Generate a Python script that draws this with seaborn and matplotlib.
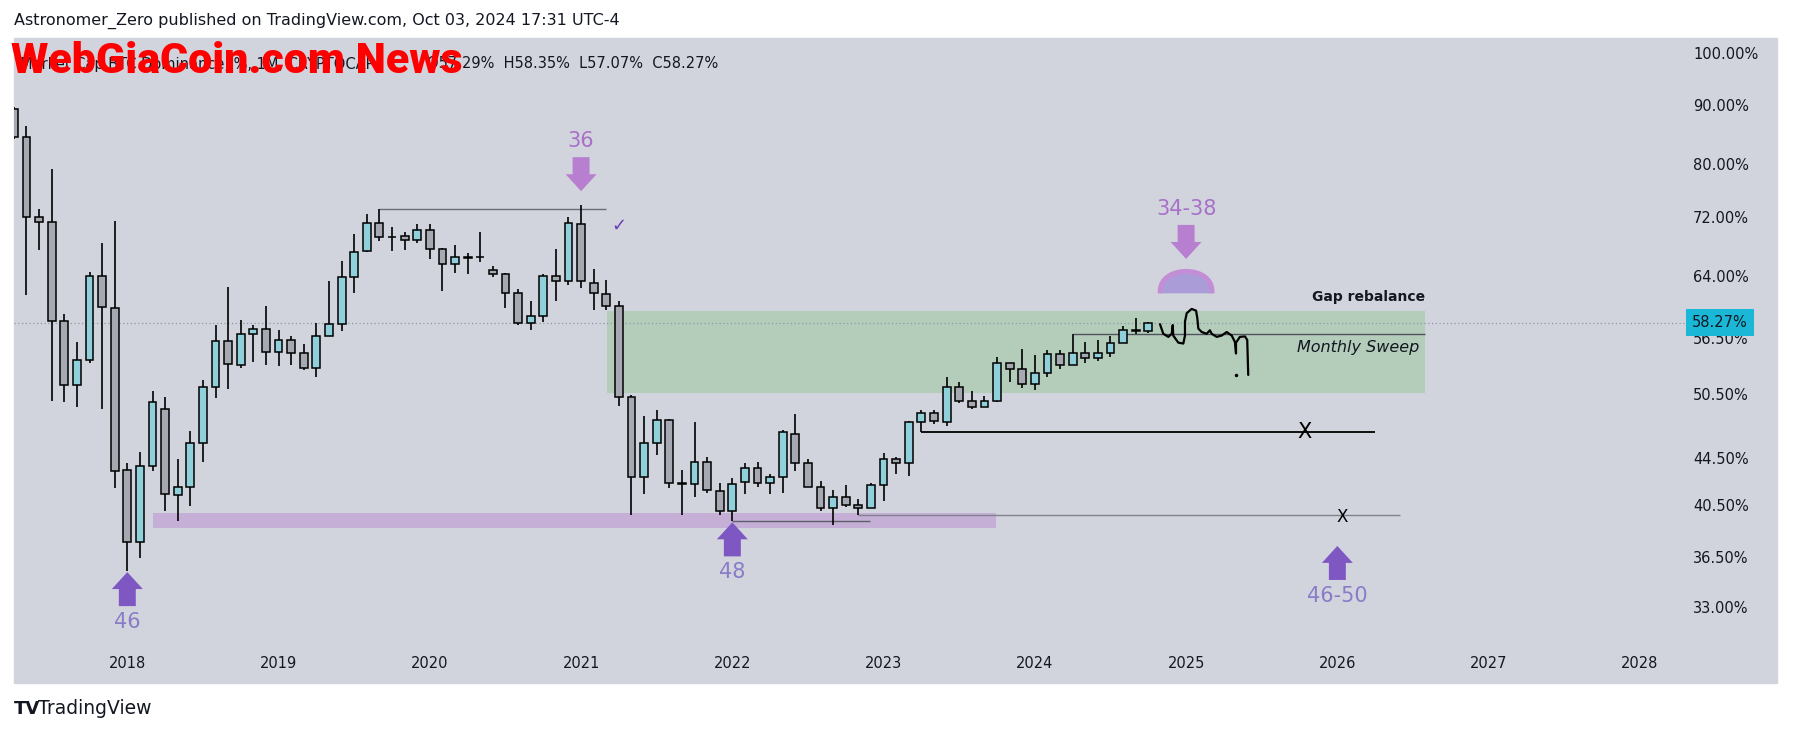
import numpy as np
import pandas as pd
import seaborn as sns
import matplotlib.pyplot as plt
import matplotlib.patches as mpatches
import matplotlib.transforms as mtransforms

# Monthly candles, BTC dominance (%), Apr 2017 .. Oct 2024
months = pd.period_range('2017-04', '2024-10', freq='M')
opens = [89.3, 84.5, 72.0, 71.2, 58.5, 51.5, 54.1, 64.0, 60.0, 43.4,
         37.6, 43.8, 49.0, 41.3, 42.0, 45.8, 51.3, 56.2, 53.6, 57.0,
         57.6, 55.0, 56.3, 54.8, 53.2, 56.8, 58.1, 63.9, 67.3, 71.1,
         69.2, 69.3, 68.7, 70.1, 67.5, 65.5, 66.4, 66.4, 64.8, 64.2,
         61.9, 58.3, 59.1, 64.0, 63.3, 71.0, 63.1, 61.7, 60.2, 50.2,
         42.8, 45.8, 48.0, 42.3, 42.2, 44.1, 41.6, 40.0, 42.4, 43.6,
         42.3, 42.8, 46.7, 44.0, 42.0, 40.2, 41.1, 40.5, 40.2, 42.1,
         44.4, 44.0, 47.8, 48.7, 47.8, 51.2, 49.85, 49.2, 49.8, 53.8,
         53.1, 51.6, 52.7, 54.7, 53.6, 54.9, 54.3, 54.8, 56.0, 57.4, 57.29]
highs = [89.6, 86.4, 73.2, 79.3, 59.3, 56.1, 64.5, 68.4, 71.4, 44.0,
         45.0, 50.8, 50.2, 44.4, 46.9, 52.0, 58.0, 62.6, 58.6, 58.0,
         60.2, 57.4, 56.8, 55.8, 58.2, 63.3, 65.9, 69.6, 72.4, 73.1,
         70.5, 69.8, 71.0, 71.0, 67.6, 68.1, 67.0, 69.9, 65.3, 64.3,
         62.3, 60.8, 64.2, 67.5, 72.0, 73.7, 64.9, 63.5, 60.8, 50.4,
         48.4, 48.9, 48.1, 43.4, 47.8, 44.6, 42.3, 42.7, 44.0, 44.1,
         43.1, 47.0, 48.6, 44.4, 42.5, 41.7, 42.1, 41.0, 42.3, 44.9,
         44.6, 47.9, 48.9, 48.9, 52.3, 51.8, 50.8, 50.3, 54.4, 53.8,
         55.3, 54.6, 55.2, 55.2, 57.0, 56.1, 56.3, 56.8, 57.9, 58.8, 58.35]
lows = [84.2, 61.6, 67.4, 49.8, 49.7, 49.2, 53.8, 49.0, 41.9, 35.5,
        36.4, 43.3, 40.0, 39.2, 40.4, 44.1, 50.1, 51.0, 53.2, 53.9,
        53.6, 53.4, 53.6, 53.0, 52.3, 56.7, 57.3, 61.9, 67.1, 68.6,
        67.3, 67.4, 68.3, 66.2, 62.1, 64.3, 64.2, 65.8, 63.9, 60.0,
        58.0, 57.4, 58.4, 60.9, 62.8, 62.5, 59.8, 59.8, 49.3, 39.7,
        41.4, 44.7, 41.9, 39.7, 41.1, 41.5, 39.7, 39.2, 41.4, 42.0,
        41.4, 41.5, 43.3, 42.0, 40.0, 38.9, 40.3, 39.7, 40.2, 40.8,
        43.1, 42.9, 46.8, 47.6, 47.4, 49.6, 49.0, 49.2, 49.7, 51.8,
        51.1, 50.9, 52.3, 53.1, 53.6, 53.8, 54.0, 54.4, 56.0, 57.0, 57.07]
closes = [84.5, 72.0, 71.2, 58.5, 51.5, 54.1, 64.0, 60.1, 43.3, 37.6,
          43.8, 49.7, 41.4, 42.0, 45.8, 51.3, 56.2, 53.7, 57.0, 57.5,
          55.0, 56.3, 54.8, 53.2, 56.8, 58.1, 63.9, 67.1, 71.1, 69.2,
          69.1, 68.7, 70.1, 67.5, 65.5, 66.4, 66.35, 66.45, 64.2, 61.9,
          58.3, 59.1, 64.0, 63.3, 71.1, 63.3, 61.8, 60.2, 50.2, 42.8,
          45.8, 48.0, 42.3, 42.2, 44.1, 41.7, 40.0, 42.2, 43.6, 42.3,
          42.8, 46.8, 44.0, 42.0, 40.2, 41.1, 40.5, 40.2, 42.1, 44.4,
          44.0, 47.8, 48.7, 47.9, 51.2, 49.8, 49.2, 49.85, 53.8, 53.1,
          51.6, 52.7, 54.7, 53.6, 54.9, 54.3, 54.8, 56.0, 57.4, 57.3, 58.27]

price_ticks = [100, 90, 80, 72, 64, 56.5, 50.5, 44.5, 40.5, 36.5, 33]
year_labels = [str(y) for y in range(2018, 2029)]
last_price = 58.27

# drawings, x = months counted from Jan 2018, y = dominance %
gap_zone = [38.05, 102.95, 50.6, 59.65]
support_zone = [2.0, 68.9, 38.7, 39.8]
level_lines = [  # value, from, to, colour, width
    (73.1, 20.0, 37.98, '#6a6d78', 1.0),
    (57.0, 75.0, 102.95, '#50535e', 1.0),
    (46.8, 63.0, 98.98, '#000000', 1.3),
    (39.7, 58.0, 100.97, '#80838d', 1.0),
    (39.2, 48.0, 58.92, '#5d606b', 1.0),
]
arrow_marks = [  # month, tip value, label, direction, arrow colour, text colour
    (0, 35.4, '46', 'up', '#7e57c2', '#8a7bc8'),
    (36, 75.8, '36', 'down', '#b87fd0', '#a870c8'),
    (48, 39.1, '48', 'up', '#7e57c2', '#8a7bc8'),
    (84, 66.2, '34-38', 'down', '#b87fd0', '#a870c8'),
    (96, 37.3, '46-50', 'up', '#7e57c2', '#8a7bc8'),
]
dome_anchor = (84, 61.8)
check_mark = (39.0, 70.8)
cross_marks = [(93.43, 46.8, 15), (96.37, 39.5, 12)]
sq_month = [81.93, 82.19, 82.59, 82.86, 82.94, 82.98, 83.38, 83.78, 83.91, 83.91,
            84.05, 84.44, 84.79, 84.89, 84.97, 85.24, 85.63, 85.89, 86.03, 86.43,
            86.82, 87.22, 87.62, 87.88, 87.96, 87.96, 88.27, 88.67, 88.85, 88.93]
sq_value = [58.1, 57.0, 56.65, 57.0, 58.0, 56.8, 56.0, 55.9, 56.8, 58.4,
            59.4, 59.9, 59.7, 58.8, 57.6, 57.2, 57.0, 57.4, 57.0, 56.65,
            56.8, 57.2, 56.8, 56.05, 54.8, 56.0, 56.65, 56.7, 56.3, 52.5]
sq_dot = (87.96, 52.5)

W, H = 1793, 735
PANEL = '#d1d4dc'
INK = '#131722'

sns.set_theme(style='white', rc={'axes.facecolor': PANEL, 'figure.facecolor': 'white'})
plt.rcParams['font.family'] = ['DejaVu Sans']

fig = plt.figure(figsize=(W / 100, H / 100), dpi=100)
fig.add_artist(mpatches.Rectangle((14 / W, 1 - 683 / H), (1777 - 14) / W, (683 - 38) / H,
                                  transform=fig.transFigure, color=PANEL, zorder=0))
ax = fig.add_axes([14 / W, 1 - 646 / H, (1686 - 14) / W, (646 - 38) / H])

df = pd.DataFrame({'m': (months.year - 2018) * 12 + months.month - 1,
                   'o': opens, 'h': highs, 'l': lows, 'c': closes})
df['up'] = df['c'] >= df['o']

# zones
ax.add_patch(mpatches.Rectangle((gap_zone[0], gap_zone[2]), gap_zone[1] - gap_zone[0],
                                gap_zone[3] - gap_zone[2], color='#b4cdba', lw=0, zorder=1))
ax.add_patch(mpatches.Rectangle((support_zone[0], support_zone[2]), support_zone[1] - support_zone[0],
                                support_zone[3] - support_zone[2], color='#c6afd6', lw=0, zorder=1))
ax.axhline(last_price, color='#8f96a8', ls=(0, (1, 2)), lw=0.9, zorder=1.2)
for val, m0, m1, col, lw in level_lines:
    ax.hlines(val, m0, m1, color=col, lw=lw, zorder=1.5)

# candles
ax.vlines(df['m'], df['l'], df['h'], color='black', lw=1.2, zorder=2)
ax.bar(df['m'], (df['c'] - df['o']).abs(), bottom=df[['o', 'c']].min(axis=1), width=0.62,
       color=np.where(df['up'], '#8fd0da', '#a6a9b1'), edgecolor='black', linewidth=1.1, zorder=3)

# projection squiggle
sns.lineplot(x=sq_month, y=sq_value, sort=False, estimator=None, color='black', lw=1.6, ax=ax, zorder=4)
ax.plot(*sq_dot, marker='o', ms=1.5, color='black', zorder=4)

ax.set_yscale('log')
ax.set_ylim(30.54, 102.95)
ax.set_xlim(-8.99, 123.66)

# block arrows with labels
for m, v, label, direction, acol, tcol in arrow_marks:
    sgn = 1 if direction == 'down' else -1
    ax.annotate('', xy=(m, v), xytext=(0, 34 * sgn), textcoords='offset pixels',
                arrowprops=dict(arrowstyle='simple,head_length=1.22,head_width=2.23,tail_width=1.22',
                                fc=acol, ec='none', shrinkA=0, shrinkB=0, mutation_scale=10),
                zorder=5)
    ax.annotate(label, xy=(m, v), xytext=(0, 50 * sgn), textcoords='offset pixels',
                ha='center', va='center', fontsize=15, color=tcol, zorder=5)

theta = np.linspace(0, np.pi, 60)
dome = mpatches.Polygon(np.column_stack([26 * np.cos(theta), 22 * np.sin(theta) ** 0.8]), closed=False,
                        fc='#aa9cd7', ec='#c48ed6', lw=3.5, joinstyle='round',
                        transform=mtransforms.ScaledTranslation(*dome_anchor, ax.transData), zorder=5)
ax.add_patch(dome)

ax.text(*check_mark, '\u2713', color='#6a3db8', fontsize=13, fontweight='bold',
        ha='center', va='center', zorder=5)
for m, v, fs in cross_marks:
    ax.text(m, v, 'X', fontsize=fs, ha='center', va='center', color='black', zorder=5)

ax.text(gap_zone[1], 61.3, 'Gap rebalance', ha='right', va='center', fontsize=10,
        fontweight='bold', color=INK, zorder=5)
ax.text(102.47, 55.5, 'Monthly Sweep', ha='right', va='center', fontsize=11.5,
        style='italic', color=INK, zorder=5)

# axes
ax.yaxis.tick_right()
ax.set_yticks(price_ticks)
ax.set_yticklabels([f'{v:.2f}%' for v in price_ticks])
ax.yaxis.set_minor_locator(plt.NullLocator())
ax.set_xticks(range(0, 121, 12))
ax.set_xticklabels(year_labels)
ax.tick_params(axis='y', length=0, pad=5, labelsize=10.5, labelcolor=INK)
ax.tick_params(axis='x', length=0, pad=7, labelsize=10.5, labelcolor=INK)
for s in ax.spines.values():
    s.set_visible(False)
ax.set_xlabel('')
ax.set_ylabel('')

ax.annotate(f'{last_price:.2f}%', xy=(1, last_price), xycoords=('axes fraction', 'data'),
            xytext=(6, 0), textcoords='offset pixels', ha='left', va='center', fontsize=10.5,
            color=INK, annotation_clip=False, zorder=6,
            bbox=dict(boxstyle='square,pad=0.4', fc='#1ab8d6', ec='none'))

# page texts
fig.text(14 / W, 1 - 21 / H, 'Astronomer_Zero published on TradingView.com, Oct 03, 2024 17:31 UTC-4',
         ha='left', va='center', fontsize=11.5, color=INK)
fig.text(20 / W, 1 - 64 / H, 'Market Cap BTC Dominance, %, 1M, CRYPTOCAP', ha='left', va='center',
         fontsize=10.5, color=INK)
fig.text(718 / W, 1 - 64 / H, 'O57.29%  H58.35%  L57.07%  C58.27%', ha='right', va='center',
         fontsize=10.5, color=INK)
fig.text(11 / W, 1 - 73 / H, 'WebGiaCoin.com News', ha='left', va='baseline', fontsize=31,
         fontweight='heavy', family=['Roboto', 'DejaVu Sans'], color='#ff0000')
fig.text(14 / W, 1 - 709 / H, 'TV', ha='left', va='center', fontsize=13, fontweight='heavy', color=INK)
fig.text(38 / W, 1 - 709 / H, 'TradingView', ha='left', va='center', fontsize=13.5, color=INK)

fig.savefig('out.png', dpi=100)
